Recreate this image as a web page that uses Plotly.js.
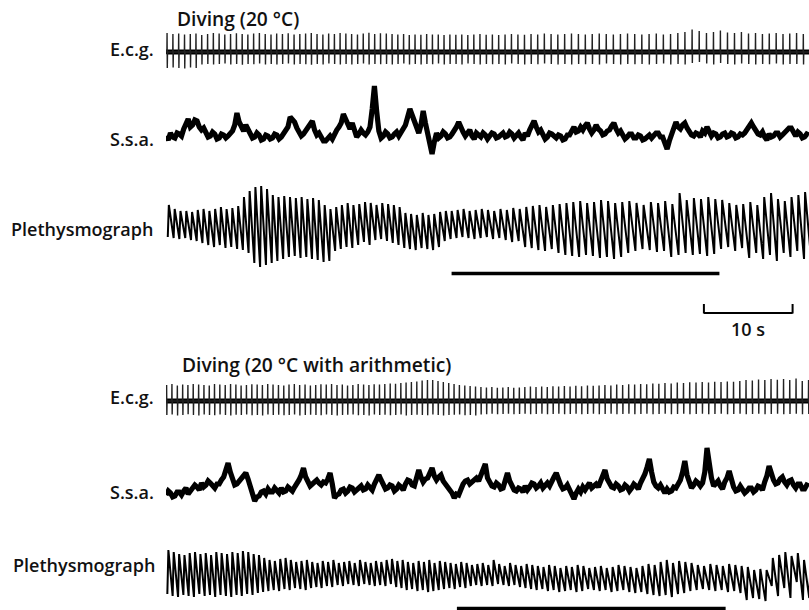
<!DOCTYPE html>
<html><head><meta charset="utf-8">
<script src="https://cdn.plot.ly/plotly-3.0.1.min.js"></script>
<style>html,body{margin:0;padding:0;background:#fff;}#chart{width:809px;height:610px;}</style>
</head><body><div id="chart"></div>
<script>
// ---------------- DATA ----------------
// Top record: "Diving (20 °C)"
// R-R intervals of the e.c.g. (s)
const topRR = [
0.66,0.65,0.66,0.65,0.64,0.65,0.66,0.65,0.65,0.64,
0.65,0.66,0.65,0.64,0.65,0.65,0.66,0.65,0.64,0.65,
0.65,0.66,0.65,0.65,0.64,0.65,0.66,0.65,0.65,0.64,
0.65,0.65,0.66,0.65,0.64,0.65,0.65,0.66,0.65,0.65,
0.65,0.64,0.65,0.66,0.65,0.65,0.66,0.65,0.66,0.67,
0.67,0.68,0.68,0.69,0.70,0.70,0.71,0.72,0.72,0.73,
0.74,0.74,0.75,0.75,0.76,0.76,0.77,0.77,0.78,0.78,
0.78,0.79,0.79,0.80,0.80,0.80,0.81,0.80,0.82,0.81,
0.80,0.81,0.82,0.80,0.81,0.80,0.82,0.79,0.78,0.80,
0.79,0.78,0.80,0.79,0.78,0.77,0.78,0.77,0.76,0.77,
0.76,0.76,0.75];
const topEcgUp = [
0.95,0.90,0.92,0.88,0.90,0.93,0.85,0.90,0.95,0.92,
0.88,0.90,0.94,0.90,0.87,0.92,0.95,0.90,0.88,0.92,
0.90,0.94,0.88,0.90,0.93,0.95,0.90,0.88,0.92,0.90,
0.95,0.93,0.90,0.88,0.92,0.96,0.90,0.94,0.92,0.90,
0.88,0.90,0.85,0.88,0.86,0.90,0.88,0.87,0.85,0.88,
0.86,0.88,0.85,0.87,0.90,0.86,0.88,0.85,0.87,0.90,
0.88,0.86,0.90,0.88,0.92,0.90,0.88,0.90,0.92,0.90,
0.88,0.90,0.92,0.90,0.88,0.90,0.92,0.90,0.88,0.90,
0.92,0.88,0.90,0.95,1.00,1.12,1.05,0.95,1.00,1.08,
0.98,0.95,1.00,0.92,0.95,0.90,0.92,0.95,0.90,0.92,
0.95,0.90,0.92];
const topEcgDown = [
-0.80,-0.78,-0.80,-0.82,-0.78,-0.80,-0.62,-0.60,-0.63,-0.60,
-0.58,-0.62,-0.60,-0.64,-0.60,-0.61,-0.58,-0.62,-0.60,-0.63,
-0.60,-0.58,-0.62,-0.60,-0.61,-0.64,-0.60,-0.62,-0.58,-0.60,
-0.62,-0.60,-0.63,-0.60,-0.58,-0.62,-0.60,-0.61,-0.60,-0.62,
-0.60,-0.58,-0.62,-0.60,-0.63,-0.60,-0.61,-0.58,-0.62,-0.60,
-0.60,-0.62,-0.58,-0.60,-0.63,-0.60,-0.61,-0.60,-0.62,-0.58,
-0.60,-0.62,-0.60,-0.61,-0.58,-0.60,-0.62,-0.60,-0.63,-0.60,
-0.61,-0.60,-0.62,-0.58,-0.60,-0.62,-0.60,-0.61,-0.60,-0.62,
-0.60,-0.58,-0.62,-0.60,-0.63,-0.55,-0.50,-0.58,-0.62,-0.55,
-0.60,-0.62,-0.58,-0.60,-0.62,-0.60,-0.61,-0.58,-0.62,-0.60,
-0.60,-0.62,-0.60];
// Skin sympathetic activity, one sample every 0.25 s (arbitrary units)
const topSsa = [
3,-1,6,2,1,6,5,3,10,16,20,12,14,19,18,12,9,11,7,2,
3,7,5,0,1,5,4,1,3,6,8,14,26,17,12,8,14,9,5,1,
2,6,4,-1,0,4,3,0,1,5,4,0,2,5,7,12,22,20,17,11,
8,3,5,8,12,16,18,9,4,6,2,-2,-2,1,3,0,6,9,12,16,
25,20,14,10,16,9,2,5,9,6,4,7,12,30,53,28,8,1,3,7,
5,1,2,5,7,3,6,9,14,22,30,24,18,10,6,14,28,16,6,-5,
-15,-3,6,1,3,7,5,1,2,5,8,12,17,11,7,3,6,9,3,0,
6,3,2,6,4,0,3,6,5,1,2,5,6,2,3,7,5,1,4,6,
2,-1,6,3,9,13,18,12,7,9,4,0,2,6,5,2,1,4,3,-1,
0,4,4,8,12,7,8,12,9,13,16,10,6,9,14,10,8,4,5,8,
9,13,16,10,6,8,4,0,2,5,5,1,1,4,3,-1,0,3,4,1,
3,6,6,2,2,-4,-10,-2,5,11,17,12,10,14,16,11,7,4,3,6,
5,2,8,6,12,7,3,6,5,1,2,5,6,2,3,6,5,1,2,5,
4,6,9,12,16,12,8,5,4,7,2,-1,5,2,3,6,6,2,4,7,
8,11,11,6,3,7,5,1,2,5,4];
const topPlethPeak = [
70,66,64,64,63,65,66,64,66,68,
66,67,69,78,84,88,89,86,80,78,
79,78,77,78,76,77,75,70,66,68,
70,72,70,71,73,72,70,72,71,70,
68,62,61,60,62,60,61,63,64,64,
65,66,64,65,66,65,64,66,65,67,
66,68,69,70,68,70,71,72,73,74,
72,73,75,74,72,73,74,72,70,73,
72,74,71,82,75,77,76,78,76,75,
72,70,71,73,70,78,82,76,74,78,
80,83,78];
const topPlethTrough = [
38,37,36,37,35,34,32,30,28,30,
27,28,26,25,22,12,8,10,12,14,
16,18,19,17,18,16,15,13,14,24,
26,28,27,30,33,30,35,36,34,32,
30,27,26,25,27,26,25,28,34,36,
37,38,37,36,37,38,36,37,35,33,
34,28,27,25,24,26,22,20,19,18,
20,19,17,18,16,18,22,24,26,25,
23,24,18,20,22,20,21,19,21,26,
28,24,27,17,22,16,20,14,22,18,
24,16,20];
const topDive = [32.2, 62.4];

// Bottom record: "Diving (20 °C with arithmetic)"
const botRR = [
0.60,0.61,0.60,0.59,0.60,0.61,0.60,0.60,0.59,0.60,
0.61,0.60,0.60,0.59,0.60,0.61,0.60,0.59,0.60,0.60,
0.61,0.60,0.59,0.60,0.60,0.61,0.60,0.60,0.59,0.60,
0.60,0.61,0.60,0.59,0.60,0.60,0.61,0.60,0.59,0.60,
0.60,0.61,0.60,0.60,0.59,0.60,0.61,0.60,0.60,0.59,
0.60,0.60,0.61,0.60,0.60,0.61,0.60,0.61,0.61,0.62,
0.61,0.62,0.62,0.61,0.62,0.63,0.62,0.63,0.63,0.64,
0.63,0.64,0.64,0.65,0.64,0.65,0.65,0.66,0.65,0.66,
0.66,0.67,0.66,0.67,0.68,0.67,0.68,0.68,0.69,0.68,
0.69,0.70,0.69,0.70,0.70,0.71,0.70,0.71,0.70,0.71,
0.71,0.70,0.71,0.70,0.71,0.70,0.71,0.70,0.71,0.70,
0.70,0.71,0.70,0.71,0.70];
const botEcgUp = [
0.80,0.85,0.78,0.82,0.80,0.85,0.82,0.80,0.78,0.85,
0.82,0.80,0.85,0.82,0.78,0.80,0.84,0.82,0.80,0.85,
0.82,0.80,0.78,0.82,0.85,0.80,0.82,0.78,0.80,0.84,
0.82,0.85,0.80,0.82,0.78,0.80,0.85,0.82,0.80,0.84,
0.82,0.85,0.88,0.86,0.90,0.92,0.95,0.98,1.02,1.05,
1.05,1.00,0.95,0.90,0.85,0.80,0.78,0.75,0.72,0.70,
0.68,0.70,0.66,0.68,0.70,0.66,0.68,0.70,0.72,0.70,
0.72,0.70,0.74,0.72,0.75,0.73,0.76,0.74,0.78,0.76,
0.78,0.80,0.78,0.82,0.80,0.84,0.82,0.85,0.84,0.88,
0.86,0.90,0.88,0.92,0.90,0.94,0.92,0.95,0.93,0.96,
0.95,0.98,0.96,1.00,1.05,1.02,1.08,1.05,1.10,1.06,
1.10,1.05,1.12,1.00,1.05];
const botEcgDown = [
-0.70,-0.68,-0.72,-0.70,-0.66,-0.70,-0.72,-0.68,-0.70,-0.71,
-0.68,-0.70,-0.72,-0.69,-0.70,-0.68,-0.71,-0.70,-0.72,-0.68,
-0.70,-0.69,-0.71,-0.70,-0.68,-0.72,-0.70,-0.69,-0.70,-0.71,
-0.68,-0.70,-0.72,-0.70,-0.69,-0.68,-0.71,-0.70,-0.72,-0.68,
-0.70,-0.69,-0.71,-0.70,-0.68,-0.72,-0.70,-0.69,-0.70,-0.71,
-0.68,-0.70,-0.72,-0.70,-0.69,-0.68,-0.71,-0.70,-0.72,-0.68,
-0.66,-0.64,-0.66,-0.65,-0.64,-0.66,-0.65,-0.64,-0.66,-0.65,
-0.64,-0.66,-0.65,-0.64,-0.66,-0.65,-0.64,-0.66,-0.65,-0.64,
-0.66,-0.65,-0.64,-0.66,-0.65,-0.64,-0.66,-0.65,-0.64,-0.66,
-0.65,-0.64,-0.66,-0.65,-0.64,-0.66,-0.65,-0.64,-0.66,-0.65,
-0.64,-0.66,-0.65,-0.64,-0.66,-0.65,-0.64,-0.66,-0.65,-0.64,
-0.66,-0.65,-0.64,-0.66,-0.65];
const botSsa = [
-3,1,-1,-5,-4,0,0,-3,1,4,-2,1,3,7,5,2,9,5,7,11,
9,6,4,8,8,12,15,22,29,20,12,7,8,11,12,15,19,13,6,-2,
-9,-5,-4,0,1,-2,3,0,0,4,2,-1,4,0,1,5,3,1,5,8,
12,17,24,15,10,6,8,11,12,9,7,10,9,13,19,8,-6,-3,-2,2,
3,-1,1,5,4,0,2,5,6,2,3,7,5,2,8,12,17,12,8,3,
4,7,6,1,3,7,5,2,8,12,11,7,6,14,22,15,10,13,14,19,
24,16,12,15,17,11,8,5,4,-1,-6,-2,-3,3,8,11,12,8,10,13,
14,11,18,22,28,14,9,6,5,9,7,3,4,10,19,11,6,2,1,4,
3,0,6,2,5,9,8,4,6,9,4,7,9,6,12,15,19,11,7,3,
4,7,2,-3,-7,-1,3,0,5,2,6,9,4,7,8,5,10,15,22,13,
8,5,4,8,6,2,3,7,5,1,4,8,6,3,9,13,18,25,33,20,
10,6,4,7,2,-1,3,0,1,5,4,7,12,20,31,17,9,4,7,11,
9,6,9,20,44,25,14,6,8,11,6,3,10,14,21,10,5,1,2,6,
3,-1,1,4,4,0,2,6,5,2,10,16,26,17,12,8,9,13,15,10,
7,11,12,7,4,8,8,3,3,7,6];
const botPlethPeak = [
60,58,56,55,57,58,56,57,55,58,
57,56,58,57,59,58,56,55,52,50,
49,51,52,50,48,49,50,48,47,49,
48,50,47,48,49,47,50,48,47,49,
48,50,51,49,50,48,47,49,48,50,
47,49,48,47,46,48,47,45,46,47,
45,50,46,44,47,45,44,46,45,44,
43,45,44,42,44,43,45,44,42,43,
44,42,43,45,44,43,42,44,46,45,
48,50,47,49,48,47,45,44,46,45,
44,46,45,44,43,40,41,40,52,55,
58,54,57,50,42];
const botPlethTrough = [
16,14,13,15,14,13,16,14,15,13,
15,14,13,15,14,16,15,17,18,19,
20,19,21,20,22,21,20,22,23,22,
24,23,25,24,26,25,24,26,25,24,
25,24,26,23,22,20,21,19,20,18,
19,20,21,22,21,23,22,24,25,24,
25,24,26,25,24,25,23,22,21,20,
21,19,20,18,19,20,18,19,21,20,
19,20,18,19,20,18,17,18,16,15,
14,15,13,16,17,19,20,21,20,19,
20,18,19,17,10,12,11,9,24,14,
22,12,28,10,12];
const botDive = [32.8, 63.1];
const scaleBar = [60.65, 70.65];
const ssaStep = 0.25;

// ---------------- LAYOUT GEOMETRY ----------------
const W = 809, H = 610;
const pY = px => 1 - px / H;
const pX = px => px / W;
const FONT = {family: 'Open Sans', size: 18, color: '#111', weight: 600};
const TFONT = {family: 'Open Sans', size: 19.2, color: '#111', weight: 600};

function beatTimes(t0, rr) { const t = []; let c = t0; rr.forEach(r => { t.push(c); c += r; }); return t; }

function ecgTraces(times, up, down, yaxis) {
  const n = Math.min(times.length, up.length, down.length);
  const xs = [], ys = [];
  for (let k = 0; k < n; k++) {
    const t = times[k];
    xs.push(t, t + 0.02, t + 0.045, t + 0.07);
    ys.push(0, up[k], down[k], 0);
  }
  const clip = ys.map(v => Math.max(-0.1, Math.min(0.12, v)));
  return [
    {x: xs, y: clip, xaxis: 'x', yaxis: yaxis, mode: 'lines', line: {color: '#000', width: 5}, hoverinfo: 'skip'},
    {x: xs, y: ys, xaxis: 'x', yaxis: yaxis, mode: 'lines', line: {color: '#222', width: 1.4}, hoverinfo: 'skip'}
  ];
}
function plethTrace(times, peak, trough, yaxis) {
  const n = Math.min(times.length, peak.length, trough.length);
  const xs = [], ys = [];
  for (let k = 0; k < n; k++) {
    xs.push(times[k] + 0.10, times[k] + 0.22);
    ys.push(trough[k], peak[k]);
  }
  return {x: xs, y: ys, xaxis: 'x', yaxis: yaxis, mode: 'lines', line: {color: '#000', width: 2}, hoverinfo: 'skip'};
}
function ssaTrace(vals, yaxis) {
  return {x: vals.map((v, i) => i * ssaStep), y: vals, xaxis: 'x', yaxis: yaxis, mode: 'lines',
          line: {color: '#000', width: 5.2, shape: 'linear'}, hoverinfo: 'skip'};
}

const tTop = beatTimes(0.1, topRR);
const tBot = beatTimes(0.05, botRR);

const data = [
  ...ecgTraces(tTop, topEcgUp, topEcgDown, 'y'),
  ssaTrace(topSsa, 'y2'),
  plethTrace(tTop, topPlethPeak, topPlethTrough, 'y3'),
  ...ecgTraces(tBot, botEcgUp, botEcgDown, 'y4'),
  ssaTrace(botSsa, 'y5'),
  plethTrace(tBot, botPlethPeak, botPlethTrough, 'y6')
];

const hidden = {visible: false, showgrid: false, zeroline: false, fixedrange: true};
const yax = (pxTop, pxBot, range) => Object.assign({domain: [pY(pxBot), pY(pxTop)], range: range, anchor: 'x'}, hidden);
const ann = (text, xpx, ypx, xanchor, f) => ({text: text, xref: 'paper', yref: 'paper', x: pX(xpx), y: pY(ypx),
  xanchor: xanchor, yanchor: 'middle', showarrow: false, font: f || FONT});
const line = (x0, x1, y0, y1, w) => ({type: 'line', xref: 'x', yref: 'paper', x0: x0, x1: x1, y0: pY(y0), y1: pY(y1),
  line: {color: '#000', width: w}});

const layout = {
  width: W, height: H, margin: {l: 0, r: 0, t: 0, b: 0},
  paper_bgcolor: '#fff', plot_bgcolor: '#fff', showlegend: false,
  xaxis: Object.assign({domain: [pX(166), 1], range: [0, 72.5]}, hidden),
  yaxis: yax(26, 78, [-1.3, 1.3]),
  yaxis2: yax(80, 160, [-21, 59]),
  yaxis3: yax(180, 275, [0, 95]),
  yaxis4: yax(375, 427, [-1.3, 1.3]),
  yaxis5: yax(440, 520, [-28, 52]),
  yaxis6: yax(545, 610, [0, 65]),
  annotations: [
    ann('Diving (20 °C)', 175, 18.5, 'left', TFONT),
    ann('E.c.g.', 156, 48.5, 'right'),
    ann('S.s.a.', 156, 138.5, 'right'),
    ann('Plethysmograph', 155, 228.5, 'right'),
    Object.assign(ann('10 s', 0, 329, 'center'), {xref: 'x', x: (scaleBar[0] + scaleBar[1]) / 2}),
    ann('Diving (20 °C with arithmetic)', 180, 364.5, 'left', TFONT),
    ann('E.c.g.', 156, 397, 'right'),
    ann('S.s.a.', 156, 491.5, 'right'),
    ann('Plethysmograph', 157, 565, 'right')
  ],
  shapes: [
    line(topDive[0], topDive[1], 273.5, 273.5, 3.5),
    line(botDive[0], botDive[1], 608.5, 608.5, 3.5),
    line(scaleBar[0], scaleBar[1], 313, 313, 2),
    line(scaleBar[0], scaleBar[0], 304, 313.5, 2),
    line(scaleBar[1], scaleBar[1], 304, 313.5, 2)
  ]
};

Plotly.newPlot('chart', data, layout, {staticPlot: true, displayModeBar: false});
</script></body></html>
